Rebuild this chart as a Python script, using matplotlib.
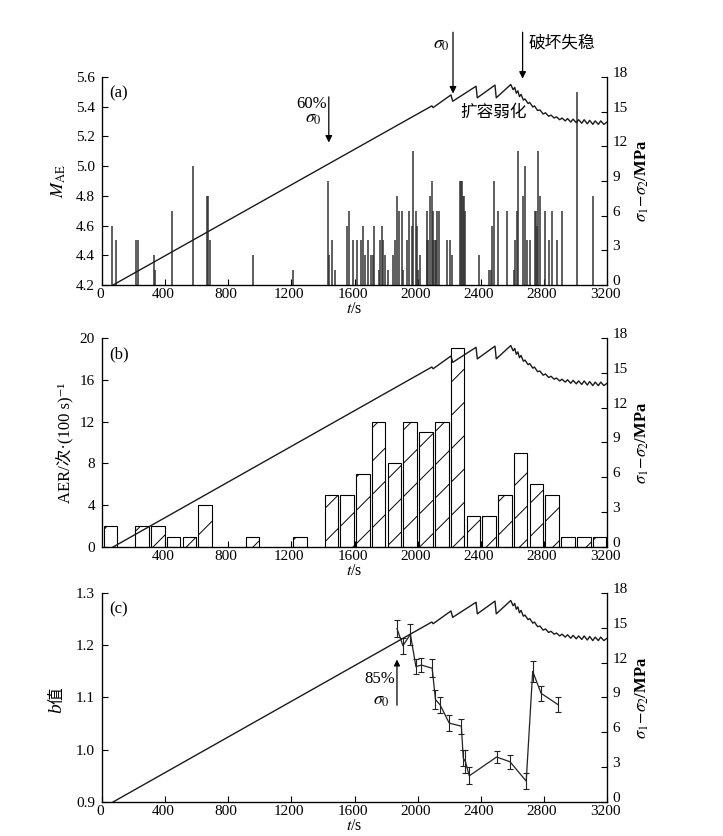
import matplotlib
matplotlib.use("Agg")
import matplotlib.pyplot as plt
import matplotlib.transforms as mtransforms
import numpy as np

plt.rcParams['font.family'] = ['Liberation Serif', 'Noto Sans CJK SC', 'DejaVu Sans']
plt.rcParams['mathtext.fontset'] = 'stix'
plt.rcParams['hatch.linewidth'] = 0.7

# ---------------- data ----------------
# differential stress curve (t in s, sigma1 - sigma2 in MPa)
stress_t = [70, 2090, 2098, 2211, 2222, 2370, 2378, 2490, 2498, 2590,
            2605, 2615, 2625, 2635, 2645, 2655, 2670, 2680, 2700, 2710,
            2730, 2740, 2760, 2775, 2795, 2810, 2830, 2845, 2865, 2880,
            2900, 2915, 2935, 2950, 2970, 2985, 3005, 3020, 3040, 3055,
            3075, 3090, 3110, 3125, 3145, 3160, 3180, 3200]
stress_v = [0.0, 15.5, 15.35, 16.45, 15.9, 17.2, 16.2, 17.3, 16.2, 17.35,
            16.9, 17.1, 16.6, 16.8, 16.3, 16.5, 16.0, 16.1, 15.7, 15.8,
            15.4, 15.5, 15.1, 15.15, 14.8, 14.9, 14.6, 14.7, 14.45, 14.55,
            14.3, 14.45, 14.2, 14.4, 14.1, 14.35, 14.05, 14.3, 14.0, 14.3,
            13.95, 14.25, 13.9, 14.2, 13.9, 14.2, 13.9, 14.1]

# (a) AE magnitudes
mae_t = [65, 89, 213, 226, 332, 336, 441, 575, 663, 674, 683, 955, 1208,
         1435, 1440, 1455, 1476, 1550, 1565, 1592, 1614, 1641, 1652, 1667,
         1688, 1703, 1716, 1726, 1756, 1762, 1772, 1783, 1790, 1814, 1846,
         1857, 1867, 1884, 1899, 1905, 1935, 1945, 1962, 1973, 1990, 1998,
         2005, 2015, 2057, 2062, 2068, 2078, 2089, 2095, 2099, 2108, 2116,
         2125, 2135, 2188, 2205, 2216, 2269, 2274, 2279, 2290, 2294, 2300,
         2389, 2452, 2463, 2474, 2486, 2512, 2565, 2611, 2617, 2628, 2638,
         2670, 2680, 2691, 2712, 2745, 2750, 2758, 2765, 2776, 2807, 2835,
         2851, 2881, 2913, 3008, 3114]
mae_v = [4.6, 4.5, 4.5, 4.5, 4.4, 4.3, 4.7, 5.0, 4.8, 4.8, 4.5, 4.4, 4.3,
         4.9, 4.4, 4.5, 4.3, 4.6, 4.7, 4.5, 4.5, 4.5, 4.6, 4.4,
         4.5, 4.4, 4.4, 4.6, 4.3, 4.5, 4.6, 4.5, 4.4, 4.3, 4.4,
         4.5, 4.8, 4.7, 4.7, 4.3, 4.5, 4.7, 4.6, 5.1, 4.7, 4.6,
         4.3, 4.4, 4.7, 4.5, 4.5, 4.8, 4.9, 4.5, 4.7, 4.5, 4.5,
         4.7, 4.7, 4.5, 4.5, 4.4, 4.9, 4.9, 4.9, 4.8, 4.8, 4.7,
         4.4, 4.3, 4.3, 4.6, 4.9, 4.7, 4.7, 4.3, 4.5, 4.7, 5.1,
         4.8, 5.0, 4.5, 4.5, 4.7, 4.7, 4.6, 5.1, 4.8, 4.7, 4.5,
         4.7, 4.5, 4.7, 5.5, 4.8]

# (b) AE rate per 100 s bin (bin start times)
aer_bin = [0, 200, 300, 400, 500, 600, 900, 1200, 1400, 1500, 1600, 1700,
           1800, 1900, 2000, 2100, 2200, 2300, 2400, 2500, 2600, 2700,
           2800, 2900, 3000, 3100]
aer_val = [2, 2, 2, 1, 1, 4, 1, 1, 5, 5, 7, 12,
           8, 12, 11, 12, 19, 3, 3, 5, 9, 6,
           5, 1, 1, 1]

# (c) b value with error
b_t = [1869, 1907, 1954, 1989, 2024, 2092, 2113, 2142, 2200, 2277, 2289,
       2303, 2327, 2500, 2585, 2688, 2729, 2782, 2891]
b_v = [1.232, 1.199, 1.221, 1.159, 1.162, 1.156, 1.096, 1.086, 1.051, 1.045,
       0.984, 0.977, 0.950, 0.986, 0.977, 0.940, 1.150, 1.108, 1.086]
b_err = [0.017, 0.015, 0.020, 0.015, 0.014, 0.017, 0.018, 0.015, 0.016,
         0.014, 0.015, 0.022, 0.016, 0.012, 0.013, 0.015, 0.020, 0.014, 0.014]

xticks_a = [0, 400, 800, 1200, 1600, 2000, 2400, 2800, 3200]
xticks_b = [400, 800, 1200, 1600, 2000, 2400, 2800, 3200]
yticks_a = [4.2, 4.4, 4.6, 4.8, 5.0, 5.2, 5.4, 5.6]
yticks_b = [0, 4, 8, 12, 16, 20]
yticks_c = [0.9, 1.0, 1.1, 1.2, 1.3]
yticks_r = [0, 3, 6, 9, 12, 15, 18]

# ---------------- figure ----------------
fig = plt.figure(figsize=(7.23, 8.36), dpi=100)
W = 0.6985
axa = fig.add_axes([0.1411, 0.6591, W, 0.2488])
axb = fig.add_axes([0.1411, 0.3457, W, 0.2500])
axc = fig.add_axes([0.1411, 0.0407, W, 0.2500])

TFS = 11
cjk = ['Noto Sans CJK SC', 'DejaVu Sans']
ser = ['Liberation Serif', 'Noto Sans CJK SC', 'DejaVu Sans']
xshift = mtransforms.ScaledTranslation(-2 / 100, 0, fig.dpi_scale_trans)
yshift = mtransforms.ScaledTranslation(0, 5 / 100, fig.dpi_scale_trans)


def style(ax, xt):
    ax.set_xlim(0, 3200)
    ax.set_xticks(xt)
    ax.spines['top'].set_visible(False)
    ax.tick_params(direction='in', length=4, width=0.8, labelsize=TFS)
    ax.tick_params(axis='x', pad=2)
    ax.tick_params(axis='y', pad=5)
    for s in ['left', 'right', 'bottom']:
        ax.spines[s].set_linewidth(0.9)
    ax.set_xlabel(r'$t$/s', fontsize=11.5, labelpad=0)
    for lab in ax.get_xticklabels():
        lab.set_transform(lab.get_transform() + xshift)


def right_axis(ax):
    r = ax.twinx()
    r.set_ylim(0, 18)
    r.set_yticks(yticks_r)
    r.spines['top'].set_visible(False)
    r.tick_params(direction='in', length=4, width=0.8, labelsize=TFS, pad=4)
    for lab in r.get_yticklabels():
        lab.set_transform(lab.get_transform() + yshift)
    r.plot(stress_t, stress_v, color='#1a1a1a', lw=1.0)
    r.set_ylabel(r'$\sigma_1\!-\!\sigma_2$/MPa', fontsize=12,
                 fontweight='bold', labelpad=4)
    return r


# (a)
style(axa, xticks_a)
axa.set_ylim(4.2, 5.6)
axa.set_yticks(yticks_a)
axa.vlines(mae_t, 4.2, mae_v, color='#333333', lw=1.1)
axa.set_ylabel(r'$M_{\rm AE}$', fontsize=13, labelpad=6)
axa.text(0.015, 0.96, '(a)', transform=axa.transAxes, fontsize=12, va='top')
ra = right_axis(axa)
axa.annotate('', xy=(1437, 5.14), xytext=(1437, 5.485),
             arrowprops=dict(arrowstyle='-|>', color='black', lw=0.9,
                             mutation_scale=10))
axa.text(1330, 5.42, '60%', fontsize=12, ha='center', va='center')
axa.text(1340, 5.32, r'$\sigma_0$', fontsize=13, ha='center', va='center')
axa.annotate('', xy=(2224, 5.47), xytext=(2224, 5.92),
             arrowprops=dict(arrowstyle='-|>', color='black', lw=0.9,
                             mutation_scale=10), annotation_clip=False)
axa.text(2150, 5.82, r'$\sigma_0$', fontsize=13, ha='center', va='center')
axa.annotate('', xy=(2665, 5.57), xytext=(2665, 5.92),
             arrowprops=dict(arrowstyle='-|>', color='black', lw=0.9,
                             mutation_scale=10), annotation_clip=False)
axa.text(2700, 5.83, '破坏失稳', fontsize=12, ha='left', va='center',
         family=cjk)
axa.text(2480, 5.36, '扩容弱化', fontsize=12, ha='center', va='center',
         family=cjk)

# (b)
style(axb, xticks_b)
axb.set_ylim(0, 20)
axb.set_yticks(yticks_b)
axb.bar([t + 10 for t in aer_bin], aer_val, width=86, align='edge',
        facecolor='white', edgecolor='black', lw=0.8, hatch='/')
axb.set_ylabel('AER/次·(100 s)⁻¹', fontsize=12, labelpad=4, family=ser)
axb.text(0.015, 0.96, '(b)', transform=axb.transAxes, fontsize=12, va='top')
rb = right_axis(axb)

# (c)
style(axc, xticks_a)
axc.set_ylim(0.9, 1.3)
axc.set_yticks(yticks_c)
axc.errorbar(b_t, b_v, yerr=b_err, color='#222222', lw=0.9, capsize=2,
             elinewidth=0.8, capthick=0.8)
axc.text(-0.09, 0.47, 'b', transform=axc.transAxes, rotation=90,
         fontsize=14, fontstyle='italic', ha='center', va='top',
         family=ser)
axc.text(-0.09, 0.47, '值', transform=axc.transAxes, rotation=90,
         fontsize=12, ha='center', va='bottom', family=cjk)
axc.text(0.015, 0.96, '(c)', transform=axc.transAxes, fontsize=12, va='top')
rc = right_axis(axc)
axc.annotate('', xy=(1869, 1.178), xytext=(1869, 1.08),
             arrowprops=dict(arrowstyle='-|>', color='black', lw=0.9,
                             mutation_scale=9))
axc.text(1760, 1.136, '85%', fontsize=12, ha='center', va='center')
axc.text(1770, 1.094, r'$\sigma_0$', fontsize=13, ha='center', va='center')

for ax in (axa, axc):
    ax.yaxis.set_major_formatter(matplotlib.ticker.FormatStrFormatter('%.1f'))

fig.savefig('out.png', dpi=100)
